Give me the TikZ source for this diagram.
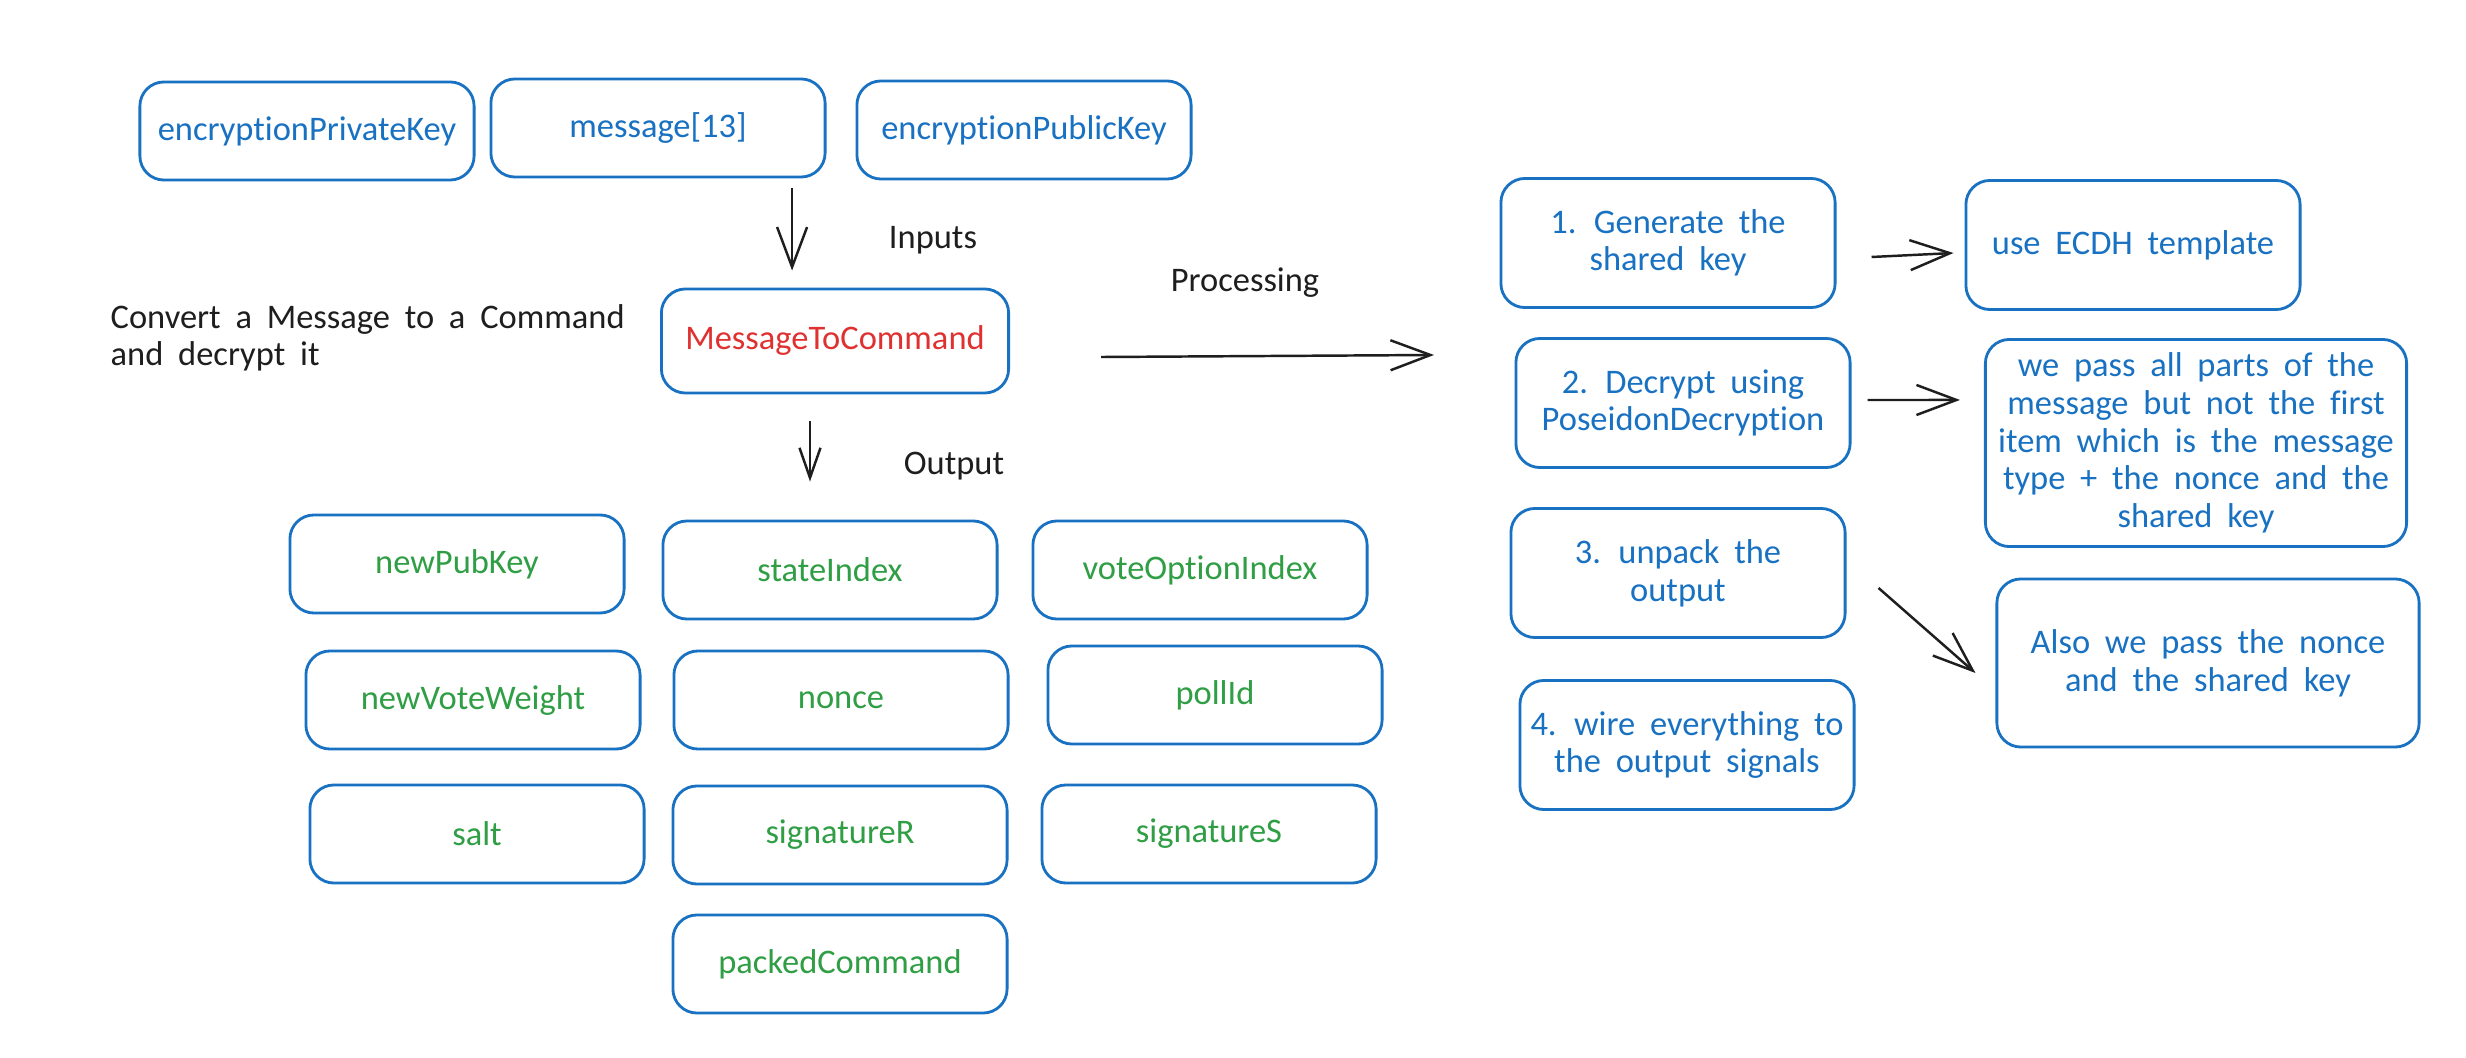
\documentclass[tikz,border=0pt]{standalone}
\usepackage{fontspec}
\setmainfont{Carlito}[WordSpace=1.9, Ligatures={NoCommon,NoDiscretionary,NoContextual}]
\usetikzlibrary{arrows.meta}
\definecolor{xblue}{HTML}{1971C2}
\definecolor{xgreen}{HTML}{2F9E44}
\definecolor{xred}{HTML}{E03131}
\definecolor{xink}{HTML}{1E1E1E}
\begin{document}
\begin{tikzpicture}[x=0.01cm,y=-0.01cm,
  every node/.style={font=\fontsize{9.8}{10.7}\selectfont, inner sep=0pt},
  box/.style={draw=xblue, line width=0.8pt, rounded corners=0.24cm,
    minimum width=3.34cm, minimum height=0.98cm, align=center},
  inbox/.style={box, text=xblue},
  outbox/.style={box, text=xgreen},
  stepbox/.style={box, text=xblue, minimum height=1.29cm},
  lbl/.style={text=xink},
  arr/.style={draw=xink, line width=0.7pt, -{Straight Barb[length=0.4cm,width=0.3cm,line width=0.7pt]}},
  arrs/.style={draw=xink, line width=0.7pt, -{Straight Barb[length=0.3cm,width=0.21cm,line width=0.7pt]}}
]
\useasboundingbox (0,0) rectangle (2466,1058);
\fill[white] (0,0) rectangle (2466,1058);

% inputs
\node[inbox] (epk)  at (307,131) {encryptionPrivateKey};
\node[inbox] (msg)  at (658,128) {message[13]};
\node[inbox] (epub) at (1024,130) {encryptionPublicKey};

\node[lbl] (inl) at (933,240) {Inputs};

\node[box, text=xred, minimum width=3.47cm, minimum height=1.04cm] (mtc) at (835,341) {MessageToCommand};

\node[lbl, anchor=west, align=left] (desc) at (110,338) {Convert a Message to a Command\\and decrypt it};

\node[lbl] (procl) at (1245,283) {Processing};
\node[lbl] (outl) at (954,466) {Output};

% outputs
\node[outbox] (npk) at (457,564) {newPubKey};
\node[outbox] (si)  at (830,570) {stateIndex};
\node[outbox] (voi) at (1200,570) {voteOptionIndex};
\node[outbox] (nvw) at (473,700) {newVoteWeight};
\node[outbox] (non) at (841,700) {nonce};
\node[outbox] (pid) at (1215,695) {pollId};
\node[outbox] (slt) at (477,834) {salt};
\node[outbox] (sgr) at (840,835) {signatureR};
\node[outbox] (sgs) at (1209,834) {signatureS};
\node[outbox] (pkc) at (840,964) {packedCommand};

% processing steps
\node[stepbox] (s1) at (1668,243) {1. Generate the\\shared key};
\node[stepbox] (ecdh) at (2133,245) {use ECDH template};
\node[stepbox] (s2) at (1683,403) {2. Decrypt using\\PoseidonDecryption};
\node[stepbox, minimum width=4.21cm, minimum height=2.07cm] (pass) at (2196,443)
  {we pass all parts of the\\message but not the first\\item which is the message\\type + the nonce and the\\shared key};
\node[stepbox] (s3) at (1678,573) {3. unpack the\\output};
\node[stepbox] (s4) at (1687,745) {4. wire everything to\\the output signals};
\node[stepbox, minimum width=4.22cm, minimum height=1.68cm] (also) at (2208,663)
  {Also we pass the nonce\\and the shared key};

% connectors
\draw[arr, shorten <=0.1cm, shorten >=0.17cm] ([xshift=1.34cm]msg.south) -- ([xshift=1.34cm]msg.south |- mtc.north);
\draw[arrs, shorten <=0.27cm, shorten >=0.38cm] ([xshift=-0.25cm]mtc.south) -- ([xshift=-0.25cm]mtc.south |- si.north);
\coordinate (pend) at (1434,355);
\draw[arr] ([xshift=0.91cm,yshift=-0.16cm]mtc.east) -- (pend);
\draw[arr] ([xshift=0.35cm,yshift=-0.14cm]s1.east) -- ([xshift=-0.11cm,yshift=-0.08cm]ecdh.west);
\draw[arr] ([xshift=0.16cm,yshift=0.03cm]s2.east) -- ([xshift=-0.24cm,yshift=0.43cm]pass.west);
\draw[arr] ([xshift=0.32cm,yshift=-0.15cm]s3.east) -- ([xshift=-0.2cm,yshift=-0.1cm]also.west);
\end{tikzpicture}
\end{document}
